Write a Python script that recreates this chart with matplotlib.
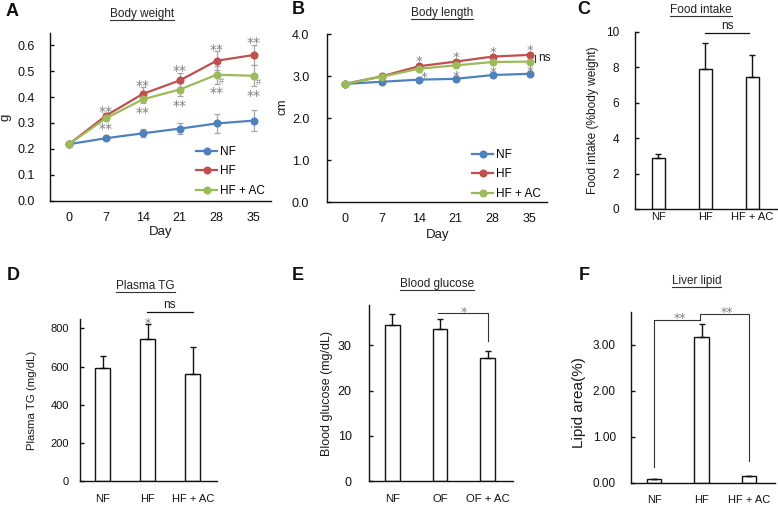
import matplotlib
matplotlib.use("Agg")
import matplotlib.pyplot as plt
from matplotlib.lines import Line2D
import numpy as np

plt.rcParams['font.family'] = ['Liberation Sans', 'DejaVu Sans']

# ---------------- data ----------------
days = [0, 7, 14, 21, 28, 35]
groups_line = ['NF', 'HF', 'HF + AC']

bw_nf = [0.218, 0.241, 0.260, 0.278, 0.298, 0.309]
bw_hf = [0.218, 0.328, 0.412, 0.464, 0.540, 0.562]
bw_ac = [0.218, 0.318, 0.391, 0.429, 0.486, 0.482]
bw_nf_err = [0.0, 0.005, 0.015, 0.022, 0.036, 0.040]
bw_hf_err = [0.0, 0.010, 0.025, 0.030, 0.037, 0.040]
bw_ac_err = [0.0, 0.005, 0.015, 0.025, 0.035, 0.040]

bl_nf = [2.82, 2.87, 2.92, 2.94, 3.03, 3.06]
bl_hf = [2.82, 3.00, 3.24, 3.35, 3.47, 3.51]
bl_ac = [2.82, 2.99, 3.18, 3.26, 3.34, 3.35]

cats_hf = ['NF', 'HF', 'HF + AC']
cats_of = ['NF', 'OF', 'OF + AC']

food = [2.88, 7.88, 7.46]
food_err = [0.20, 1.50, 1.20]

tg = [590, 744, 561]
tg_err = [65, 80, 140]

glu = [34.4, 33.7, 27.1]
glu_err = [2.6, 2.2, 1.6]

lipid = [0.075, 3.18, 0.15]
lipid_err = [0.0, 0.27, 0.0]

# ---------------- figure ----------------
W, H = 778, 505
fig = plt.figure(figsize=(W / 100, H / 100), dpi=100)

C_NF = '#4F81BD'
C_HF = '#C0504D'
C_AC = '#9BBB59'
C_STAR = '#7F7F7F'
C_ERR = '#A6A6A6'
TXT = '#1a1a1a'
STAR_FONT = ['DejaVu Sans']


def px_axes(l, t, r, b):
    return fig.add_axes([l / W, 1 - b / H, (r - l) / W, (b - t) / H])


def ftext(x, y, s, **kw):
    return fig.text(x / W, 1 - y / H, s, **kw)


def style(ax, ypad, xpad, ysize, xsize):
    for s in ['top', 'right']:
        ax.spines[s].set_visible(False)
    for s in ['left', 'bottom']:
        ax.spines[s].set_linewidth(1.0)
        ax.spines[s].set_color('#111111')
    ax.tick_params(axis='y', direction='in', length=3, width=1, pad=ypad,
                   labelsize=ysize, colors='#111111')
    ax.tick_params(axis='x', length=0, pad=xpad, labelsize=xsize, colors='#111111')


def star(ax, x, y, s, dx=0, dy=0, fs=10):
    """Place asterisk text so that its visual centre is dy points from (x, y)."""
    ax.annotate(s, (x, y), xytext=(dx, dy - 0.565 * fs), textcoords='offset points',
                ha='center', va='baseline', fontsize=fs, color=C_STAR,
                family=STAR_FONT, annotation_clip=False)


def title_ul(x, y, s, size=8.5):
    t = ftext(x, y, s, ha='center', va='center', fontsize=size, color='#222222')
    fig.canvas.draw()
    bb = t.get_window_extent(renderer=fig.canvas.get_renderer())
    yl = bb.y0 + 0.5
    fig.add_artist(Line2D([bb.x0 / W, bb.x1 / W], [yl / H, yl / H],
                          transform=fig.transFigure, color='#333333', lw=0.8))


def letter(x, y, s):
    ftext(x, y, s, ha='center', va='center', fontsize=13, fontweight='bold', color='#111111')


# ---------------- Panel A ----------------
axA = px_axes(50, 33, 271, 200.7)
style(axA, 11, 8, 9, 9)
axA.set_xlim(-3.6, 38.3)
axA.set_ylim(0, 0.647)
axA.set_yticks(np.arange(0, 0.61, 0.1))
axA.set_yticklabels([f'{v:.1f}' for v in np.arange(0, 0.61, 0.1)])
axA.set_xticks(days)
for vals, err in [(bw_nf, bw_nf_err), (bw_hf, bw_hf_err), (bw_ac, bw_ac_err)]:
    axA.errorbar(days, vals, yerr=err, fmt='none', ecolor=C_ERR, elinewidth=0.9,
                 capsize=2.5, capthick=0.9, zorder=2)
for vals, col, lab in [(bw_nf, C_NF, 'NF'), (bw_hf, C_HF, 'HF'), (bw_ac, C_AC, 'HF + AC')]:
    axA.plot(days, vals, color=col, lw=1.6, marker='o', ms=4.8, label=lab, zorder=3)
for i in range(1, len(days)):
    star(axA, days[i], bw_hf[i] + bw_hf_err[i], '**', dy=3.8, fs=10)
    star(axA, days[i], bw_ac[i] - bw_ac_err[i], '**', dy=-4.2, fs=10)
for i in [4, 5]:
    axA.annotate('#', (days[i], bw_ac[i]), xytext=(3.5, -5),
                 textcoords='offset points', ha='center', va='center',
                 fontsize=6.5, color=C_STAR)
axA.legend(loc='upper left', bbox_to_anchor=(196 / W, 1 - 146 / H),
           bbox_transform=fig.transFigure, frameon=False, fontsize=8.5,
           handlelength=1.8, handletextpad=0.2, labelspacing=0.62,
           borderpad=0, borderaxespad=0)
ftext(5, 117, 'g', rotation=90, ha='center', va='center', fontsize=9.5, color=TXT)
ftext(161, 232, 'Day', ha='center', va='center', fontsize=9.5, color=TXT)
title_ul(142, 14, 'Body weight')
letter(12.5, 11, 'A')

# ---------------- Panel B ----------------
axB = px_axes(326.7, 34.3, 547, 202.3)
style(axB, 12.5, 8, 9, 9)
axB.set_xlim(-3.47, 38.3)
axB.set_ylim(0, 4.0)
axB.set_yticks(np.arange(0, 4.01, 1.0))
axB.set_yticklabels([f'{v:.1f}' for v in np.arange(0, 4.01, 1.0)])
axB.set_xticks(days)
for vals, col, lab in [(bl_nf, C_NF, 'NF'), (bl_hf, C_HF, 'HF'), (bl_ac, C_AC, 'HF + AC')]:
    axB.plot(days, vals, color=col, lw=1.6, marker='o', ms=4.8, label=lab, zorder=3)
for i in range(2, len(days)):
    star(axB, days[i], bl_hf[i], '*', dy=6.0, fs=9.5)
    dx = 4 if i == 2 else 0
    star(axB, days[i], bl_nf[i], '*', dx=dx, dy=4.5, fs=9.5)
axB.plot([36.1, 36.1], [bl_ac[-1], bl_hf[-1]], color='#333333', lw=0.8, clip_on=False)
axB.text(36.6, (bl_ac[-1] + bl_hf[-1]) / 2, 'ns', ha='left', va='center',
         fontsize=8.5, color=TXT, clip_on=False)
axB.legend(loc='upper left', bbox_to_anchor=(472 / W, 1 - 149 / H),
           bbox_transform=fig.transFigure, frameon=False, fontsize=8.5,
           handlelength=1.8, handletextpad=0.2, labelspacing=0.62,
           borderpad=0, borderaxespad=0)
ftext(282, 107, 'cm', rotation=90, ha='center', va='center', fontsize=9, color=TXT)
ftext(437.5, 235, 'Day', ha='center', va='center', fontsize=9.5, color=TXT)
title_ul(441.7, 13.3, 'Body length')
letter(298.3, 9.5, 'B')


# ---------------- bar helper ----------------
def bars(ax, cats, vals, errs, width):
    x = np.arange(len(cats))
    ax.bar(x, vals, width=width, color='white', edgecolor='#111111', linewidth=1.0, zorder=2)
    ax.errorbar(x, vals, yerr=[np.zeros(len(vals)), errs], fmt='none', ecolor='#111111',
                elinewidth=1.0, capsize=2.5, capthick=1.0, zorder=3)
    ax.set_xticks(x)
    ax.set_xticklabels(cats)
    return x


# ---------------- Panel C ----------------
axC = px_axes(635, 31.7, 778, 209)
style(axC, 11.5, 2, 8.5, 8)
bars(axC, cats_hf, food, food_err, 0.28)
axC.set_xlim(-0.496, 2.547)
axC.set_ylim(0, 10)
axC.set_yticks(range(0, 11, 2))
axC.plot([1, 1.94], [9.91, 9.91], color='#111111', lw=0.9, clip_on=False)
axC.text(1.47, 9.98, 'ns', ha='center', va='bottom', fontsize=8.5, color=TXT, clip_on=False)
ftext(593, 120, 'Food intake (%body weight)', rotation=90, ha='center', va='center',
      fontsize=8.6, color=TXT)
title_ul(700.7, 10, 'Food intake')
letter(584, 9.5, 'C')

# ---------------- Panel D ----------------
axD = px_axes(80, 319, 217, 481)
style(axD, 8, 9, 8, 8)
bars(axD, cats_hf, tg, tg_err, 0.32)
axD.set_xlim(-0.504, 2.54)
axD.set_ylim(0, 849)
axD.set_yticks(range(0, 801, 200))
star(axD, 1, tg[1] + tg_err[1], '*', dy=3.0, fs=9)
axD.plot([0.98, 2.0], [884, 884], color='#111111', lw=0.9, clip_on=False)
axD.text(1.49, 892, 'ns', ha='center', va='bottom', fontsize=8.5, color=TXT, clip_on=False)
ftext(31.7, 400, 'Plasma TG (mg/dL)', rotation=90, ha='center', va='center',
      fontsize=8.2, color=TXT)
title_ul(145.7, 286, 'Plasma TG')
letter(13.3, 276, 'D')

# ---------------- Panel E ----------------
axE = px_axes(369, 305, 513, 481.3)
style(axE, 12.5, 9.5, 9, 8.2)
bars(axE, cats_of, glu, glu_err, 0.31)
axE.set_xlim(-0.49, 2.53)
axE.set_ylim(0, 38.9)
axE.set_yticks(range(0, 31, 10))
axE.plot([0.964, 2.01, 2.01], [37.2, 37.2, 30.9], color='#333333', lw=0.8, clip_on=False)
star(axE, 1.5, 38.1, '*', fs=9)
ftext(326.7, 393, 'Blood glucose (mg/dL)', rotation=90, ha='center', va='center',
      fontsize=9, color=TXT)
title_ul(436.7, 284.3, 'Blood glucose')
letter(297.5, 276, 'E')

# ---------------- Panel F ----------------
axF = px_axes(631, 312.3, 775, 482.7)
style(axF, 11, 9, 8.5, 8)
bars(axF, cats_hf, lipid, lipid_err, 0.30)
axF.set_xlim(-0.49, 2.55)
axF.set_ylim(0, 3.71)
axF.set_yticks([0, 1, 2, 3])
axF.set_yticklabels(['0.00', '1.00', '2.00', '3.00'])
axF.plot([0, 0, 0.97], [0.35, 3.54, 3.54], color='#333333', lw=0.8, clip_on=False)
axF.plot([0.97, 0.97, 2.0, 2.0], [3.54, 3.67, 3.67, 0.48], color='#333333', lw=0.8,
         clip_on=False)
star(axF, 0.54, 3.65, '**', fs=9)
star(axF, 1.53, 3.78, '**', fs=9)
ftext(579.3, 403, 'Lipid area(%)', rotation=90, ha='center', va='center',
      fontsize=11, color=TXT)
title_ul(696.7, 281, 'Liver lipid')
letter(584, 276, 'F')

fig.savefig('out.png', dpi=100)
